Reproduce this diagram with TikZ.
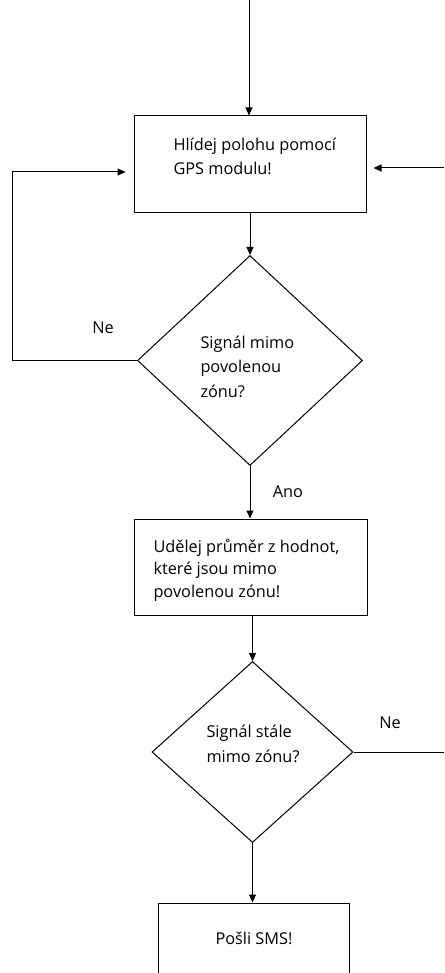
\documentclass[tikz,border=0pt]{standalone}
\usepackage{fontspec}
\setmainfont{Open Sans}
\usetikzlibrary{shapes.geometric,arrows.meta}
\begin{document}
\begin{tikzpicture}[x=1pt,y=-1pt,
  line width=1pt,
  arr/.style={-{Triangle[length=8pt,width=7pt]}},
  procbox/.style={draw,rectangle,inner sep=0pt},
  decision/.style={draw,diamond,inner sep=0pt},
  lbl/.style={font=\fontsize{16.3}{24}\selectfont,inner sep=0pt,align=left},
]
\useasboundingbox (0,0) rectangle (444,973);
\clip (0,0) rectangle (444,973);

% process boxes
\node[procbox,minimum width=232pt,minimum height=97pt] (box1) at (250,164.5) {};
\node[procbox,minimum width=233pt,minimum height=96pt] (box2) at (250.5,567) {};
\node[procbox,minimum width=191pt,minimum height=97pt] (box3) at (253.5,951.5) {};

% decisions
\node[decision,minimum width=225pt,minimum height=210pt] (dec1) at (250,360.5) {};
\node[decision,minimum width=201pt,minimum height=181pt] (dec2) at (252.5,752) {};

% texts (anchored on the baseline of their last line)
\node[lbl,anchor=base west] (t1) at (173,175) {Hlídej polohu pomocí\\GPS modulu!};
\node[lbl,anchor=base west,font=\fontsize{16.3}{24.5}\selectfont] (t2) at (200,397) {Signál mimo\\povolenou\\zónu?};
\node[lbl,anchor=base west,font=\fontsize{16.3}{22.5}\selectfont] (t3) at (153,597) {Udělej průměr z hodnot,\\které jsou mimo\\povolenou zónu!};
\node[lbl,anchor=base west,font=\fontsize{16.3}{25}\selectfont] (t4) at (206,762) {Signál stále\\mimo zónu?};
\node[lbl,anchor=base] (t5) at (254,944) {Pošli SMS!};

% branch labels
\node[lbl,anchor=base] (ne1) at (103,333) {Ne};
\node[lbl,anchor=base] (ano) at (288,497) {Ano};
\node[lbl,anchor=base] (ne2) at (390,728) {Ne};

% free ends
\coordinate (start) at (249,0);
\coordinate (rin) at (444,168);
\coordinate (lcorner) at (12,0);
\coordinate (rout) at (444,0);

% connectors
\draw[arr] (start) -- (start |- box1.north);
\draw[arr,shorten >=7pt] (rin) -- (rin -| box1.east);
\draw[arr] (box1.south) -- (dec1.north);
\draw[arr,shorten >=8pt] (dec1.west) -- (dec1.west -| lcorner) |- (box1.west |- 0,172);
\draw[arr] (dec1.south) -- (dec1.south |- box2.north);
\draw[arr] (box2.south -| dec2.north) -- (dec2.north);
\draw (dec2.east) -- (dec2.east -| rout);
\draw[arr] (dec2.south) -- (dec2.south |- box3.north);
\end{tikzpicture}
\end{document}
